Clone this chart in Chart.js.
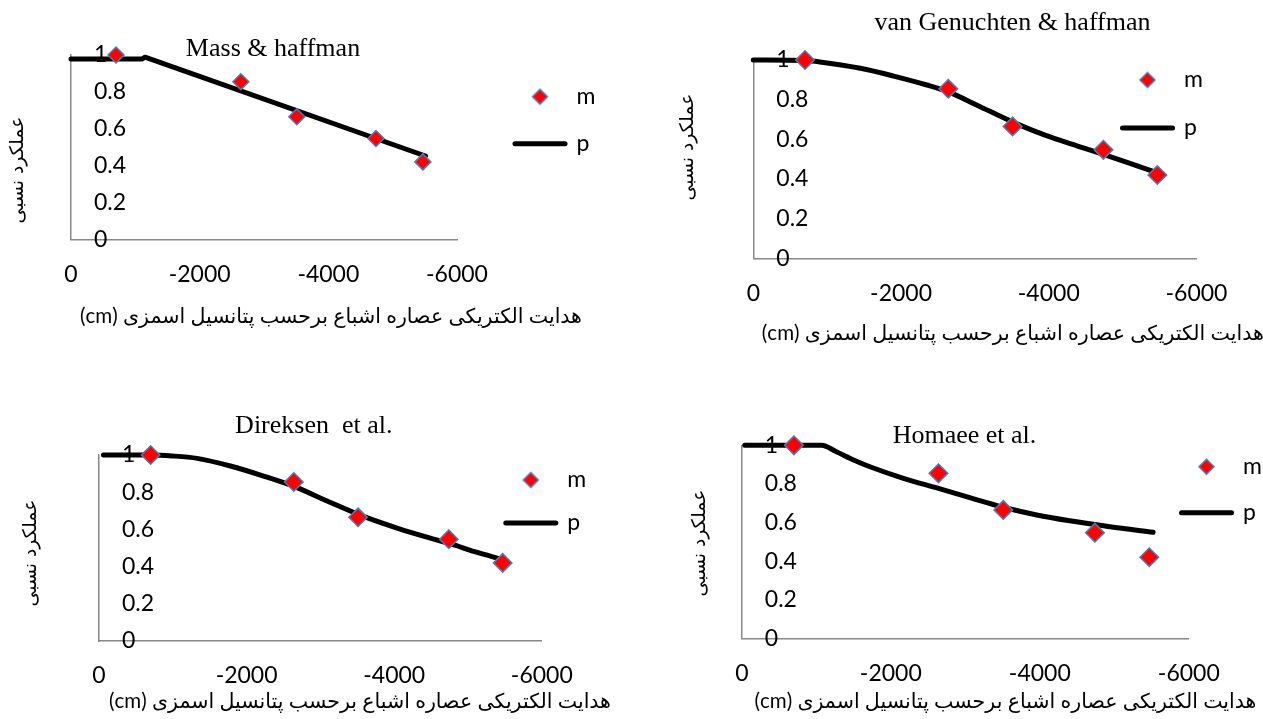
<!DOCTYPE html>
<html>
<head>
<meta charset="utf-8">
<script src="https://cdn.jsdelivr.net/npm/chart.js@4/dist/chart.umd.min.js"></script>
<style>
  html, body { margin: 0; padding: 0; background: #fff; width: 1263px; height: 719px; overflow: hidden; }
  canvas { position: absolute; }
</style>
</head>
<body>
<canvas id="c1"></canvas>
<canvas id="c2"></canvas>
<canvas id="c3"></canvas>
<canvas id="c4"></canvas>
<script>
// ---------------- data ----------------
const xMeasured = [-700, -2640, -3510, -4740, -5470];
const yMeasured = [1.0, 0.855, 0.665, 0.547, 0.42];

const xMaas = [0, -1100, -1150, -5510];
const yMaas = [0.978, 0.978, 0.988, 0.452];

const xGenuchten = [0, -700, -900, -1450, -1900, -2350, -2650, -3030, -3530, -3940, -4390, -4760, -5070, -5480];
const yGenuchten = [1, 0.997, 0.99, 0.958, 0.919, 0.874, 0.838, 0.772, 0.684, 0.622, 0.566, 0.521, 0.482, 0.43];

const xDirksen = [-60, -700, -990, -1330, -1780, -2230, -2650, -3090, -3540, -4050, -4500, -4770, -5090, -5460];
const yDirksen = [1, 1, 0.995, 0.982, 0.941, 0.887, 0.83, 0.753, 0.677, 0.606, 0.552, 0.522, 0.48, 0.439];

const xHomaee = [-40, -1070, -1270, -1500, -1720, -2170, -2640, -3060, -3510, -3960, -4400, -4940, -5520];
const yHomaee = [1, 1, 0.967, 0.924, 0.889, 0.829, 0.777, 0.729, 0.679, 0.639, 0.609, 0.578, 0.549];

const xTickValues = [0, -2000, -4000, -6000];
const yTickValues = [0, 0.2, 0.4, 0.6, 0.8, 1];
const seriesLabels = ['m', 'p'];
const chartTitles = ['Mass & haffman', 'van Genuchten & haffman', 'Direksen  et al.', 'Homaee et al.'];
const xAxisTitle = 'هدایت الکتریکی عصاره اشباع برحسب پتانسیل اسمزی (cm)';
const yAxisTitle = 'عملکرد نسبی';

// ---------------- style / layout ----------------
const AXIS_COLOR = '#888888';
const RED = '#FF0000';
const BLUE = '#4A7EBB';
const FS = 23;

Chart.defaults.font.family = 'Lato';

const panels = [
  { id: 'c1', cx: 0, cy: 0, W: 631, H: 360, area: { l: 71, r: 457, t: 55, b: 239.3 }, markerR: 8,
    legend: { x: 515, y: 96.7, P: 24 }, title: { x: 273, y: 56 }, xTitle: { x: 331, y: 316.7 }, yTitle: { x: 18.5, y: 170 },
    px: xMaas, py: yMaas, smooth: false },
  { id: 'c2', cx: 631, cy: 0, W: 632, H: 360, area: { l: 753.3, r: 1196.5, t: 60, b: 258.3 }, markerR: 9.3,
    legend: { x: 1122.5, y: 80, P: 25 }, title: { x: 1012.5, y: 30 }, xTitle: { x: 1012.8, y: 333 }, yTitle: { x: 688, y: 147 },
    px: xGenuchten, py: yGenuchten, smooth: true },
  { id: 'c3', cx: 0, cy: 360, W: 631, H: 359, area: { l: 99, r: 541.8, t: 455, b: 641 }, markerR: 9.2,
    legend: { x: 505.8, y: 480, P: 20 }, title: { x: 313.8, y: 433 }, xTitle: { x: 360, y: 701.7 }, yTitle: { x: 31, y: 553 },
    px: xDirksen, py: yDirksen, smooth: true },
  { id: 'c4', cx: 631, cy: 360, W: 632, H: 359, area: { l: 741.8, r: 1188.8, t: 445.3, b: 638.3 }, markerR: 9.3,
    legend: { x: 1181.5, y: 466.7, P: 23 }, title: { x: 964.5, y: 443.3 }, xTitle: { x: 1005.4, y: 701.7 }, yTitle: { x: 700, y: 543 },
    px: xHomaee, py: yHomaee, smooth: true }
];

function diamondIcon(r) {
  const c = document.createElement('canvas');
  const s = Math.ceil(2 * r + 4);
  c.width = s; c.height = s;
  const g = c.getContext('2d');
  const m = s / 2;
  g.beginPath();
  g.moveTo(m - r, m); g.lineTo(m, m - r); g.lineTo(m + r, m); g.lineTo(m, m + r);
  g.closePath();
  g.fillStyle = RED; g.fill();
  g.lineWidth = 1.5; g.strokeStyle = BLUE; g.stroke();
  return c;
}
const legendDiamond = diamondIcon(7.5);

function textPlugin(items) {
  return {
    id: 'panelText',
    afterDraw(chart) {
      const ctx = chart.ctx;
      items.forEach(t => {
        ctx.save();
        ctx.direction = t.rtl ? 'rtl' : 'ltr';
        ctx.textAlign = 'center';
        ctx.textBaseline = t.baseline;
        ctx.fillStyle = '#000';
        let size = t.size;
        ctx.font = size + 'px ' + t.family;
        if (t.fit) {
          size = size * t.fit / ctx.measureText(t.text).width;
          ctx.font = size.toFixed(2) + 'px ' + t.family;
        }
        ctx.translate(t.x, t.y);
        if (t.rotate) ctx.rotate(-Math.PI / 2);
        ctx.fillText(t.text, 0, 0);
        ctx.restore();
      });
    }
  };
}

panels.forEach((pn, i) => {
  const cv = document.getElementById(pn.id);
  cv.width = pn.W; cv.height = pn.H;
  cv.style.left = pn.cx + 'px'; cv.style.top = pn.cy + 'px';

  const l = pn.area.l - pn.cx, r = pn.area.r - pn.cx, t = pn.area.t - pn.cy, b = pn.area.b - pn.cy;
  const YW = 2, XH = 60;
  const LEGW = pn.legend.P + 86;
  const legTop = pn.legend.y - pn.cy - FS / 2 - pn.legend.P;
  let padTop, legTitleH;
  if (legTop <= t) { padTop = legTop; legTitleH = 0; } else { padTop = 20; legTitleH = legTop - 20; }
  const topH = t - padTop;
  const dummyW = (pn.legend.x - pn.cx) - pn.legend.P - r;
  const padR = pn.W - r - LEGW - Math.max(dummyW, 0);
  const padL = l - YW;
  const padB = pn.H - b - XH;

  const measured = {
    label: seriesLabels[0],
    data: xMeasured.map((x, k) => ({ x, y: yMeasured[k] })),
    showLine: false,
    pointStyle: 'rectRot',
    pointRadius: pn.markerR,
    pointHoverRadius: pn.markerR,
    pointBackgroundColor: RED,
    pointBorderColor: BLUE,
    pointBorderWidth: 1.5,
    backgroundColor: RED,
    borderColor: BLUE,
    borderWidth: 1.5,
    clip: false,
    order: 0
  };
  const predicted = {
    label: seriesLabels[1],
    data: pn.px.map((x, k) => ({ x, y: pn.py[k] })),
    showLine: true,
    pointStyle: 'line',
    pointRadius: 0,
    pointHoverRadius: 0,
    borderColor: '#000',
    backgroundColor: '#000',
    borderWidth: 5,
    borderCapStyle: 'round',
    borderJoinStyle: 'round',
    tension: 0,
    cubicInterpolationMode: pn.smooth ? 'monotone' : 'default',
    clip: false,
    order: 1
  };

  const items = [
    { text: chartTitles[i], family: "'Liberation Serif'", size: 26, x: pn.title.x - pn.cx, y: pn.title.y - pn.cy, baseline: 'alphabetic' },
    { text: xAxisTitle, family: "Lato, 'DejaVu Sans'", size: 20, fit: 502, rtl: true, x: pn.xTitle.x - pn.cx, y: pn.xTitle.y - pn.cy, baseline: 'middle' },
    { text: yAxisTitle, family: "'DejaVu Sans'", size: 18, fit: 107, rtl: true, rotate: true, x: pn.yTitle.x - pn.cx, y: pn.yTitle.y - pn.cy, baseline: 'middle' }
  ];

  new Chart(cv, {
    type: 'scatter',
    data: { datasets: [measured, predicted] },
    options: {
      responsive: false,
      animation: false,
      devicePixelRatio: 1,
      events: [],
      layout: { autoPadding: false, padding: { left: padL, right: padR, top: padTop, bottom: padB } },
      plugins: {
        tooltip: { enabled: false },
        title: { display: false },
        legend: {
          display: true,
          position: 'right',
          align: 'start',
          fullSize: true,
          maxWidth: LEGW,
          title: legTitleH > 0
            ? { display: true, text: ' ', font: { size: 10, lineHeight: 1 }, padding: { top: 0, bottom: legTitleH - 10 } }
            : { display: false },
          labels: {
            usePointStyle: true,
            pointStyleWidth: 50,
            padding: pn.legend.P,
            color: '#000',
            font: { family: 'Lato', size: FS },
            generateLabels(chart) {
              const its = Chart.defaults.plugins.legend.labels.generateLabels(chart);
              its.forEach(it => {
                if (it.pointStyle === 'rectRot') { it.pointStyle = legendDiamond; }
                else { it.lineCap = 'round'; it.lineWidth = 5; it.strokeStyle = '#000'; }
              });
              return its;
            }
          }
        }
      },
      scales: {
        x: {
          type: 'linear', position: 'bottom', min: -6000, max: 0, reverse: true,
          grid: { display: false, drawTicks: false },
          border: { display: true, color: AXIS_COLOR, width: 1.5 },
          ticks: { color: '#000', font: { family: 'Lato', size: FS }, padding: 21, maxRotation: 0, autoSkip: false,
                   callback: v => String(v) },
          afterBuildTicks: s => { s.ticks = xTickValues.map(v => ({ value: v })); },
          afterFit: s => { s.height = XH; }
        },
        y: {
          type: 'linear', position: 'left', min: 0, max: 1,
          grid: { display: false, drawTicks: false },
          border: { display: true, color: AXIS_COLOR, width: 1.5 },
          ticks: { mirror: true, padding: 23, color: '#000', font: { family: 'Lato', size: FS }, autoSkip: false,
                   callback: v => String(+(+v).toFixed(1)) },
          afterBuildTicks: s => { s.ticks = yTickValues.map(v => ({ value: v })); },
          afterFit: s => { s.width = YW; }
        },
        xTop: {
          type: 'linear', position: 'top', display: true,
          grid: { display: false, drawTicks: false }, border: { display: false }, ticks: { display: false },
          afterFit: s => { s.height = topH; }
        },
        yRight: {
          type: 'linear', position: 'right', display: true,
          grid: { display: false, drawTicks: false }, border: { display: false }, ticks: { display: false },
          afterFit: s => { s.width = dummyW; }
        }
      }
    },
    plugins: [textPlugin(items)]
  });
});
</script>
</body>
</html>
